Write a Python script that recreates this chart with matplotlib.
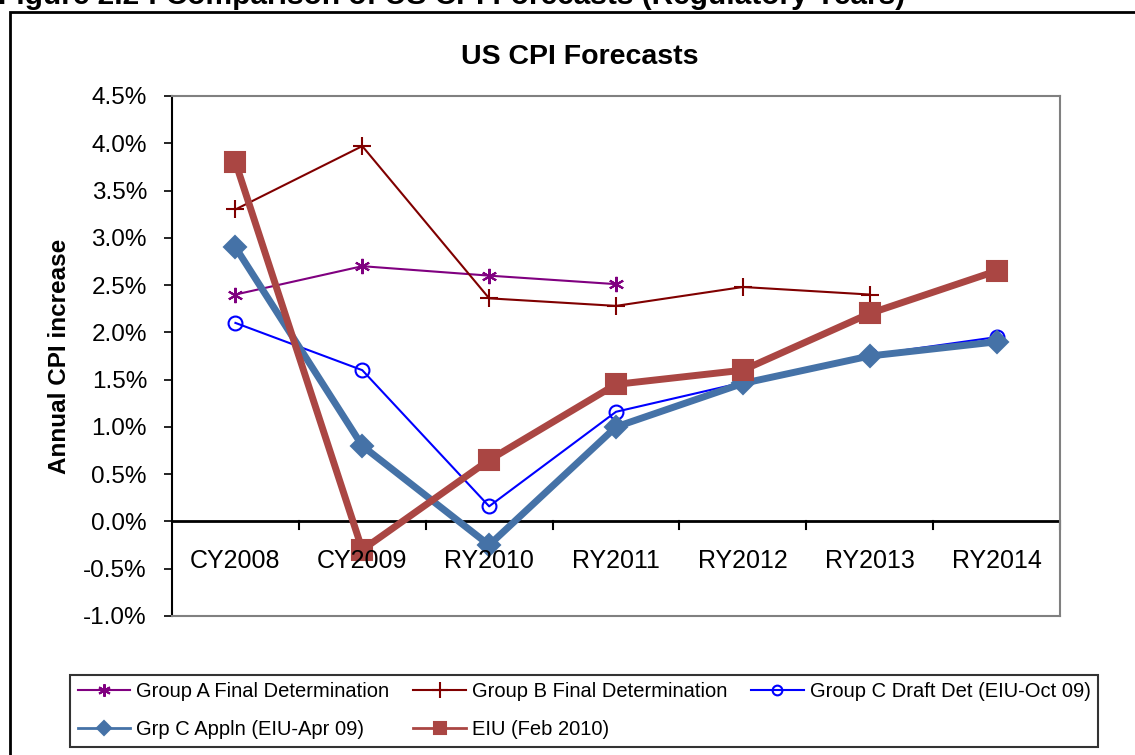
import matplotlib.pyplot as plt
from matplotlib.patches import Rectangle
from matplotlib.lines import Line2D
import numpy as np

plt.rcParams['font.family'] = ['Liberation Sans', 'DejaVu Sans']

categories = ['CY2008', 'CY2009', 'RY2010', 'RY2011', 'RY2012', 'RY2013', 'RY2014']

group_a = [2.40, 2.70, 2.60, 2.51]
group_b = [3.30, 3.97, 2.36, 2.28, 2.48, 2.40]
group_c_draft = [2.10, 1.60, 0.16, 1.16, 1.47, 1.76, 1.95]
grp_c_appln = [2.90, 0.80, -0.25, 1.00, 1.46, 1.75, 1.90]
eiu_feb10 = [3.80, -0.30, 0.65, 1.45, 1.60, 2.20, 2.65]

y_ticks = np.arange(-1.0, 4.51, 0.5)

fig = plt.figure(figsize=(11.35, 7.55), dpi=100)
ax = fig.add_axes([172/1135, 1 - 616/755, (1060 - 172)/1135, (616 - 96)/755])

x = np.arange(len(categories))

# (label, color, line width, marker, marker size, legend lw, legend ms)
styles = [
    ('Group A Final Determination', '#800080', 1.5, (6, 2, 0), 11, 1.5, 9),
    ('Group B Final Determination', '#800000', 1.5, '+', 13, 1.5, 11),
    ('Group C Draft Det (EIU-Oct 09)', '#0000FF', 1.5, 'o', 10, 1.5, 7),
    ('Grp C Appln (EIU-Apr 09)', '#4572A7', 5, 'D', 11, 2, 7),
    ('EIU (Feb 2010)', '#AA4643', 5, 's', 14, 2, 9),
]
series = [group_a, group_b, group_c_draft, grp_c_appln, eiu_feb10]

proxies = []
for vals, (lab, col, lw, mk, ms, llw, lms) in zip(series, styles):
    fs = 'none' if mk == 'o' else 'full'
    ax.plot(x[:len(vals)], vals, color=col, lw=lw, marker=mk, ms=ms, mew=1.5,
            fillstyle=fs)
    proxies.append(Line2D([], [], color=col, lw=llw, marker=mk, ms=lms, mew=1.5,
                          fillstyle=fs, label=lab))

ax.set_xlim(-0.5, len(categories) - 0.5)
ax.set_ylim(-1.0, 4.5)
ax.set_yticks(y_ticks)
ax.set_yticklabels(['%.1f%%' % v for v in y_ticks], fontsize=17.5)
ax.tick_params(axis='y', direction='out', length=6, width=1.2, pad=12)
ax.set_xticks([])

for side in ['top', 'right', 'bottom']:
    ax.spines[side].set_color('#808080')
    ax.spines[side].set_linewidth(1.5)
ax.spines['left'].set_color('black')
ax.spines['left'].set_linewidth(1.5)

# category axis crosses at zero
ax.axhline(0, color='black', lw=2, zorder=1)
for b in np.arange(0.5, len(categories), 1.0):
    ax.plot([b, b], [0, -0.085], color='black', lw=1.5, clip_on=False, zorder=1)
for i, c in enumerate(categories):
    ax.text(i, -0.42, c, ha='center', va='center', fontsize=18)

fig.text(580/1135, 1 - 57/755, 'US CPI Forecasts', fontsize=20.5, fontweight='bold',
         ha='center', va='center')
ax.set_ylabel('Annual CPI increase', fontsize=17.5, fontweight='bold', labelpad=9)

# row-wise order as in the Excel legend
order = [0, 3, 1, 4, 2]
handles = [proxies[i] for i in order]
leg = fig.legend(handles=handles, labels=[h.get_label() for h in handles],
                 ncol=3, loc='lower left', bbox_to_anchor=(70/1135, 8/755),
                 fontsize=14.5, frameon=True, fancybox=False, edgecolor='black',
                 handlelength=2.6, handletextpad=0.3, columnspacing=1.2,
                 labelspacing=0.95, borderpad=0.38, borderaxespad=0)
leg.get_frame().set_linewidth(1.5)

# outer chart frame and cut-off figure caption
fig.add_artist(Rectangle((10/1135, -0.1), 1.2, 1 - 12/755 + 0.1, transform=fig.transFigure,
                         fill=False, edgecolor='black', lw=2))
fig.text(-0.002, 1 - 4/755, 'Figure 2.2 : Comparison of US CPI Forecasts (Regulatory Years)',
         fontsize=21.5, fontweight='bold', ha='left', va='baseline')

fig.savefig('out.png', dpi=100)
